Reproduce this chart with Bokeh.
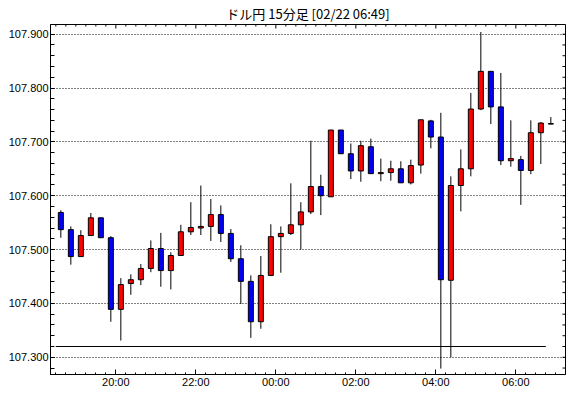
from bokeh.plotting import figure
from bokeh.models import LinearAxis, FixedTicker, ColumnDataSource, Range1d, PrintfTickFormatter
from bokeh.embed import file_html
from bokeh.resources import INLINE

# ---- data (USD/JPY 15-minute candles) ----
times = ["18:30", "18:45", "19:00", "19:15", "19:30", "19:45", "20:00", "20:15", "20:30", "20:45",
         "21:00", "21:15", "21:30", "21:45", "22:00", "22:15", "22:30", "22:45", "23:00", "23:15",
         "23:30", "23:45", "00:00", "00:15", "00:30", "00:45", "01:00", "01:15", "01:30", "01:45",
         "02:00", "02:15", "02:30", "02:45", "03:00", "03:15", "03:30", "03:45", "04:00", "04:15",
         "04:30", "04:45", "05:00", "05:15", "05:30", "05:45", "06:00", "06:15", "06:30", "06:45"]
opens = [107.569, 107.537, 107.487, 107.526, 107.559, 107.522, 107.389, 107.437, 107.444, 107.465,
         107.502, 107.461, 107.489, 107.533, 107.540, 107.543, 107.565, 107.530, 107.483, 107.441,
         107.366, 107.452, 107.524, 107.530, 107.546, 107.570, 107.617, 107.598, 107.722, 107.678,
         107.646, 107.691, 107.641, 107.643, 107.650, 107.624, 107.657, 107.739, 107.709, 107.443,
         107.619, 107.650, 107.761, 107.831, 107.765, 107.665, 107.667, 107.647, 107.717, 107.733]
highs = [107.573, 107.543, 107.536, 107.568, 107.559, 107.525, 107.447, 107.454, 107.473, 107.517,
         107.531, 107.495, 107.546, 107.588, 107.619, 107.594, 107.582, 107.538, 107.508, 107.452,
         107.488, 107.547, 107.543, 107.623, 107.588, 107.702, 107.639, 107.722, 107.722, 107.697,
         107.702, 107.706, 107.669, 107.665, 107.664, 107.667, 107.741, 107.741, 107.754, 107.636,
         107.686, 107.791, 107.904, 107.831, 107.828, 107.740, 107.674, 107.740, 107.737, 107.746]
lows = [107.522, 107.472, 107.487, 107.526, 107.522, 107.366, 107.331, 107.416, 107.434, 107.458,
        107.431, 107.426, 107.489, 107.527, 107.527, 107.516, 107.514, 107.477, 107.399, 107.336,
        107.353, 107.452, 107.457, 107.527, 107.500, 107.566, 107.564, 107.598, 107.678, 107.631,
        107.626, 107.641, 107.627, 107.628, 107.624, 107.621, 107.641, 107.688, 107.279, 107.300,
        107.571, 107.636, 107.759, 107.733, 107.657, 107.654, 107.583, 107.640, 107.659, 107.733]
closes = [107.537, 107.487, 107.526, 107.559, 107.522, 107.389, 107.435, 107.444, 107.465, 107.502,
          107.461, 107.489, 107.533, 107.541, 107.543, 107.565, 107.530, 107.483, 107.441, 107.366,
          107.452, 107.524, 107.530, 107.546, 107.570, 107.617, 107.600, 107.722, 107.678, 107.646,
          107.693, 107.641, 107.643, 107.650, 107.624, 107.656, 107.741, 107.709, 107.444, 107.619,
          107.650, 107.761, 107.831, 107.765, 107.665, 107.669, 107.647, 107.717, 107.735, 107.734]
ref_level = 107.320

x_tick_labels = ["20:00", "22:00", "00:00", "02:00", "04:00", "06:00"]
y_tick_values = [107.3, 107.4, 107.5, 107.6, 107.7, 107.8, 107.9]
title_text = "ドル円 15分足 [02/22 06:49]"

UP = "#ff0000"
DOWN = "#0000ff"
BAR_MIN = 15

W, H = 566, 392
B_LEFT, B_RIGHT, B_TOP, B_BOTTOM = 50, 1, 23, 18
FRAME_W = W - B_LEFT - B_RIGHT
FRAME_H = H - B_TOP - B_BOTTOM
MIN_PER_PX = BAR_MIN / 10.0


def to_min(s):
    h, m = map(int, s.split(":"))
    v = h * 60 + m - 18 * 60
    if v < 0:
        v += 24 * 60
    return v


starts = [to_min(t) for t in times]
centers = [s + BAR_MIN / 2 for s in starts]
tops = [max(o, c) for o, c in zip(opens, closes)]
bottoms = [min(o, c) for o, c in zip(opens, closes)]
colors = [UP if c >= o else DOWN for o, c in zip(opens, closes)]

src = ColumnDataSource(dict(x=centers, top=tops, bottom=bottoms, high=highs, low=lows, color=colors))

x_lo = starts[0] - 8.0
x_hi = x_lo + FRAME_W * MIN_PER_PX
y_lo, y_hi = 107.268, 107.918
Y_PER_PX = (y_hi - y_lo) / FRAME_H

p = figure(width=W, height=H, output_backend="svg", toolbar_location=None,
           x_range=Range1d(x_lo, x_hi), y_range=Range1d(y_lo, y_hi),
           x_axis_location=None, y_axis_location=None,
           min_border_left=B_LEFT, min_border_right=B_RIGHT,
           min_border_top=B_TOP, min_border_bottom=B_BOTTOM)

p.title.text = title_text
p.title.align = "center"
p.title.text_font = "Noto Sans CJK JP"
p.title.text_font_size = "13px"
p.title.text_font_style = "normal"
p.title.text_color = "black"
p.title.standoff = 3
p.title.offset = 0

p.outline_line_color = "black"
p.outline_line_width = 1
p.background_fill_color = "white"
p.border_fill_color = "white"

# grid
p.xgrid.visible = False
p.ygrid.ticker = FixedTicker(ticks=y_tick_values)
p.ygrid.grid_line_color = "black"
p.ygrid.grid_line_dash = "1 2"
p.ygrid.grid_line_width = 1

y_minor = [round(107.28 + 0.02 * i, 2) for i in range(33)]
x_major = [to_min(t) for t in x_tick_labels]
x_minor = [m for m in range(0, 14 * 60, 15) if x_lo < m < x_hi]
y_minor_in = [v for v in y_minor if y_lo < v < y_hi]


def style_axis(ax):
    ax.axis_line_color = "black"
    ax.major_tick_line_color = "black"
    ax.minor_tick_line_color = "black"
    ax.major_tick_out = 0
    ax.minor_tick_out = 0
    ax.major_label_text_font = "Liberation Sans"
    ax.major_label_text_font_size = "11px"
    ax.major_label_text_color = "black"


# left axis
ly = LinearAxis(ticker=FixedTicker(ticks=y_tick_values, minor_ticks=y_minor),
                formatter=PrintfTickFormatter(format="%.3f"))
style_axis(ly)
ly.major_tick_in = 4
ly.minor_tick_in = 4
ly.major_label_standoff = 2
p.add_layout(ly, "left")

# bottom axis
bx = LinearAxis(ticker=FixedTicker(ticks=x_major, minor_ticks=x_minor),
                major_label_overrides={v: lab for v, lab in zip(x_major, x_tick_labels)})
style_axis(bx)
bx.major_tick_in = 5
bx.minor_tick_in = 2
bx.major_label_standoff = 1
p.add_layout(bx, "below")

# top edge ticks (inward)
top_len = [(4 if m in x_major else 2) * Y_PER_PX for m in x_minor]
p.segment(x0=x_minor, x1=x_minor, y0=[y_hi] * len(x_minor),
          y1=[y_hi - d for d in top_len], line_color="black", line_width=1)
# right edge ticks (inward)
p.segment(x0=[x_hi] * len(y_minor_in), x1=[x_hi - 3 * MIN_PER_PX] * len(y_minor_in),
          y0=y_minor_in, y1=y_minor_in, line_color="black", line_width=1)

# reference level line
p.segment(x0=[starts[0]], x1=[starts[-1]], y0=[ref_level], y1=[ref_level],
          line_color="black", line_width=1)

# candles
p.segment(x0="x", x1="x", y0="low", y1="high", source=src, line_color="black", line_width=1)
p.vbar(x="x", width=7.5, top="top", bottom="bottom", source=src,
       fill_color="color", line_color="black", line_width=1)

open("out.html", "w").write(file_html(p, INLINE))
